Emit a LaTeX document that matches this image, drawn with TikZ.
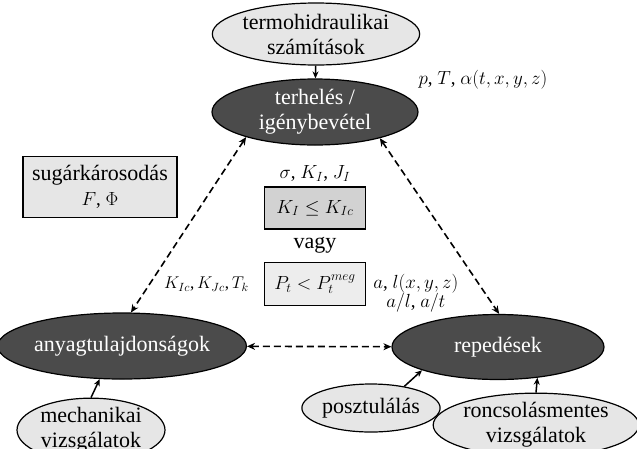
\RequirePackage{fix-cm}
\documentclass[tikz,border=0pt]{standalone}
\usepackage{fontspec}
\setmainfont{Liberation Serif}
\usepackage{amsmath}
\usetikzlibrary{shapes.geometric,arrows.meta,positioning}
\definecolor{DarkFill}{HTML}{4B4B4B}
\definecolor{LightFill}{HTML}{E6E6E6}
\definecolor{MidFill}{HTML}{D2D2D2}
\definecolor{PaleFill}{HTML}{EDEDED}
\newcommand{\diafont}{\fontsize{22}{25}\selectfont}
\newcommand{\varfont}{\fontsize{19}{22}\selectfont}
\tikzset{
    % dark ellipses in the triangle
    mainnode/.style={
        ellipse,
        draw=black,
        fill=DarkFill,
        text=white,
        line width=1.2pt,
        inner sep=0pt,
        minimum width=212pt,
        minimum height=66pt,
        align=center,
        font=\diafont
    },
    % light ellipses that feed the triangle
    sourcenode/.style={
        ellipse,
        draw=black,
        fill=LightFill,
        line width=1.2pt,
        inner sep=0pt,
        align=center,
        font=\diafont
    },
    infobox/.style={
        rectangle,
        draw=black,
        line width=1.2pt,
        align=center,
        font=\diafont
    },
    label/.style={
        inner sep=1pt,
        align=center,
        font=\varfont
    },
    arrow/.style={
        -{Stealth[length=7pt,width=6pt]},
        line width=1.5pt
    },
    dashedarrow/.style={
        {Stealth[length=8pt,width=7pt]}-{Stealth[length=8pt,width=7pt]},
        line width=1.6pt,
        dash pattern=on 7pt off 4pt
    }
}
\begin{document}
\begin{tikzpicture}[x=1pt,y=-1pt]
    \useasboundingbox (0,0) rectangle (637,448);

    \node[sourcenode, minimum width=200pt, minimum height=62pt] (termo) at (316,34) {termohidraulikai\\számítások};
    \node[mainnode, minimum width=206pt, minimum height=66pt] (load) at (315,112) {terhelés /\\igénybevétel};
    \node[mainnode] (material) at (122,346) {anyagtulajdonságok};
    \node[mainnode, minimum height=65pt] (cracks) at (498,347) {repedések};

    \node[sourcenode, minimum width=148pt, minimum height=60pt] (mech) at (91,430) {mechanikai\\vizsgálatok};
    \node[sourcenode, minimum width=133pt, minimum height=48pt] (postul) at (371,408) {posztulálás};
    \node[sourcenode, minimum width=160pt, minimum height=60pt] (ndt) at (536,425) {roncsolásmentes\\vizsgálatok};

    \node[infobox, fill=LightFill, minimum width=154pt, minimum height=61pt] (rad) at (100,187) {sugárkárosodás\\{\varfont$F$, $\Phi$}};
    \node[infobox, fill=MidFill, minimum width=101pt, minimum height=42pt, font=\varfont] (kcrit) at (315,208) {$K_I \leq K_{Ic}$};
    \node[infobox, fill=PaleFill, minimum width=101pt, minimum height=43pt, font=\varfont] (pcrit) at (315,284) {$P_t < P_t^{meg}$};

    % labels
    \node[label] (loadvars) at (483,80) {$p$, $T$, $\alpha(t,x,y,z)$};
    \node[label, above=4pt of kcrit] (stress) {$\sigma$, $K_I$, $J_I$};
    \node[label, font=\diafont] (or) at (315,245) {vagy};
    \node[label, left=14pt of pcrit, font=\fontsize{17}{20}\selectfont] (matvars) {$K_{Ic}$,\,$K_{Jc}$,\,$T_k$};
    \node[label, right=6pt of pcrit, yshift=-9pt] (crackvars) {$a$, $l(x,y,z)$\\[-3pt]$a/l$, $a/t$};

    % arrows
    \draw[arrow] (termo) -- (load);
    \draw[dashedarrow] (load.200) -- (material.75);
    \draw[dashedarrow] (load.338) -- (cracks.88);
    \draw[dashedarrow] (material) -- (cracks);
    \draw[arrow] (mech.north) -- (material.236);
    \draw[arrow] (postul.33) -- (cracks.197);
    \draw[arrow] (ndt.north) -- (cracks.322);
\end{tikzpicture}
\end{document}
